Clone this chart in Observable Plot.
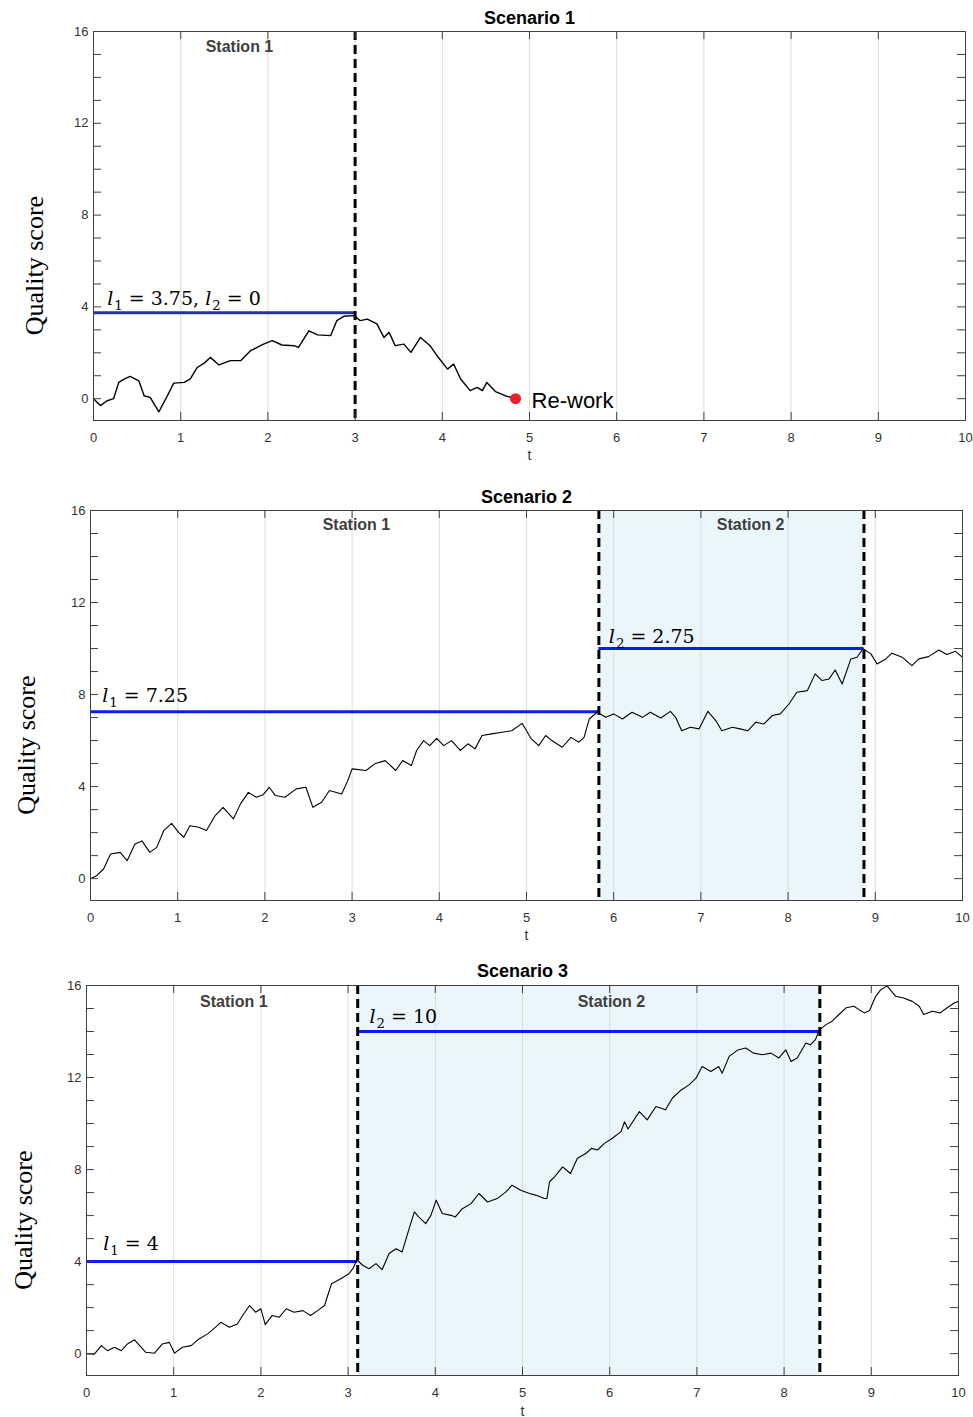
<!DOCTYPE html>
<html>
<head>
<meta charset="utf-8">
<script src="https://cdn.jsdelivr.net/npm/d3@7"></script>
<script src="https://cdn.jsdelivr.net/npm/@observablehq/plot@0.6"></script>
<style>
  body { margin: 0; background: #fff; }
  #chart svg { display: block; }
</style>
</head>
<body>
<div id="chart"></div>
<script>
// ---------- shared axis values ----------
const xTicks = [0, 1, 2, 3, 4, 5, 6, 7, 8, 9, 10];
const yLabelTicks = [0, 4, 8, 12, 16];
const yMinorTicks = [0, 1, 2, 3, 4, 5, 6, 7, 8, 9, 10, 11, 12, 13, 14, 15, 16];
const yDomain = [-0.95, 16];

// ---------- Scenario 1 ----------
const s1T = [0,0.04,0.08,0.15,0.23,0.29,0.35,0.42,0.52,0.58,0.65,0.75,0.83,0.92,1.04,1.11,1.19,1.27,1.34,1.44,1.57,1.69,1.8,1.95,2.05,2.16,2.3,2.35,2.47,2.57,2.72,2.79,2.87,2.99,3.06,3.14,3.25,3.33,3.39,3.46,3.56,3.64,3.75,3.86,3.94,4.06,4.13,4.21,4.32,4.4,4.46,4.51,4.61,4.72,4.84];
const s1Q = [0,-0.15,-0.3,-0.1,0,0.71,0.85,0.97,0.78,0.13,0.06,-0.57,0,0.68,0.71,0.86,1.36,1.55,1.8,1.47,1.66,1.66,2.09,2.38,2.53,2.34,2.31,2.24,2.96,2.78,2.75,3.4,3.59,3.62,3.4,3.47,3.26,2.67,2.89,2.31,2.38,2.02,2.67,2.31,1.87,1.29,1.51,0.86,0.35,0.49,0.35,0.71,0.31,0.13,0];
const s1Levels = [{x1: 0, x2: 3, y: 3.75}];
const s1Dashes = [3];
const s1Shade = [];
const s1Stations = ["Station 1"];
const s1StationX = [1.674];
const s1Math = ["l1 = 3.75, l2 = 0"];
const s1MathX = [0.157];
const s1MathY = [4.08];
const s1Rework = [{t: 4.84, q: 0, label: "Re-work"}];

// ---------- Scenario 2 ----------
const s2T = [0,0.07,0.15,0.23,0.34,0.42,0.51,0.59,0.68,0.76,
  0.84,0.93,1.01,1.07,1.14,1.24,1.33,1.43,1.52,1.64,
  1.72,1.81,1.9,1.98,2.05,2.12,2.23,2.36,2.47,2.55,
  2.65,2.74,2.88,2.95,3.0,3.16,3.26,3.38,3.5,3.58,
  3.68,3.74,3.82,3.89,3.97,4.05,4.14,4.24,4.33,4.41,
  4.49,4.6,4.72,4.83,4.95,5.05,5.14,5.22,5.29,5.41,
  5.51,5.6,5.66,5.72,5.81,5.91,6.0,6.1,6.21,6.33,
  6.42,6.54,6.65,6.71,6.78,6.88,6.98,7.08,7.17,7.24,
  7.36,7.45,7.54,7.63,7.72,7.82,7.91,8.01,8.1,8.22,
  8.31,8.39,8.47,8.54,8.62,8.72,8.79,8.86,8.95,9.02,
  9.12,9.19,9.31,9.42,9.5,9.61,9.73,9.82,9.92,10.0];
const s2Q = [0,0.13,0.42,1.07,1.14,0.78,1.51,1.64,1.14,1.36,
  2.09,2.4,2.01,1.8,2.3,2.23,2.09,2.74,3.1,2.6,
  3.25,3.75,3.54,3.65,3.97,3.61,3.54,3.9,3.97,3.1,
  3.32,3.83,3.68,4.26,4.77,4.7,4.99,5.13,4.7,5.13,
  4.92,5.57,6.0,5.78,6.1,5.78,6.0,5.57,5.86,5.64,
  6.22,6.29,6.36,6.43,6.75,6.1,5.78,6.22,6.0,5.71,
  6.14,5.93,6.14,6.94,7.23,7.01,7.16,6.94,7.23,7.01,
  7.23,6.98,7.27,7.01,6.43,6.58,6.51,7.27,6.87,6.43,
  6.58,6.51,6.43,6.8,6.72,7.09,7.16,7.59,8.1,8.17,
  8.9,8.61,8.68,9.07,8.46,9.55,9.62,9.99,9.77,9.33,
  9.55,9.8,9.62,9.26,9.55,9.65,9.94,9.74,9.88,9.62];
const s2Levels = [{x1: 0, x2: 5.83, y: 7.25}, {x1: 5.83, x2: 8.87, y: 10}];
const s2Dashes = [5.83, 8.87];
const s2Shade = [{x1: 5.83, x2: 8.87}];
const s2Stations = ["Station 1", "Station 2"];
const s2StationX = [3.05, 7.57];
const s2Math = ["l1 = 7.25", "l2 = 2.75"];
const s2MathX = [0.134, 5.944];
const s2MathY = [7.67, 10.25];

// ---------- Scenario 3 ----------
const s3T = [0,0.09,0.17,0.24,0.32,0.4,0.47,0.55,0.61,0.68,
  0.78,0.87,0.95,1.01,1.1,1.2,1.29,1.39,1.48,1.54,
  1.64,1.73,1.79,1.87,1.94,2.0,2.05,2.13,2.21,2.29,
  2.38,2.48,2.57,2.65,2.73,2.76,2.81,2.88,2.95,3.01,
  3.06,3.1,3.17,3.24,3.32,3.39,3.47,3.55,3.62,3.7,
  3.76,3.81,3.89,3.95,4.01,4.08,4.18,4.23,4.31,4.41,
  4.5,4.6,4.71,4.81,4.88,4.98,5.08,5.15,5.25,5.28,
  5.31,5.37,5.46,5.55,5.63,5.73,5.79,5.86,5.94,6.03,
  6.13,6.17,6.21,6.34,6.43,6.53,6.64,6.72,6.82,6.91,
  6.99,7.06,7.16,7.25,7.29,7.37,7.47,7.56,7.65,7.75,
  7.85,7.94,8.02,8.08,8.15,8.25,8.3,8.36,8.4,8.48,
  8.55,8.63,8.71,8.8,8.86,8.92,8.98,9.05,9.11,9.18,
  9.28,9.37,9.47,9.55,9.6,9.7,9.79,9.87,9.95,10.0];
const s3Q = [0,-0.02,0.35,0.13,0.28,0.13,0.42,0.6,0.35,0.06,
  0.02,0.42,0.49,0.02,0.28,0.35,0.64,0.86,1.15,1.36,
  1.15,1.29,1.66,2.09,1.8,1.95,1.26,1.66,1.58,1.95,
  1.8,1.87,1.66,1.87,2.09,2.45,3.04,3.18,3.33,3.47,
  3.73,4.08,3.83,3.69,3.91,3.65,4.35,4.56,4.42,5.43,
  6.16,5.94,5.65,6.01,6.67,6.09,6.01,5.94,6.3,6.52,
  6.96,6.59,6.74,7.03,7.32,7.1,6.96,6.89,6.74,6.74,
  7.47,7.69,8.12,7.83,8.49,8.71,8.92,8.85,9.14,9.36,
  9.65,10.08,9.76,10.52,10.16,10.74,10.6,11.11,11.46,11.68,
  11.97,12.48,12.26,12.48,12.19,12.92,13.2,13.28,13.06,12.99,
  13.06,12.85,13.2,12.7,12.85,13.5,13.42,13.65,14.05,14.3,
  14.45,14.74,15.03,15.1,14.95,14.81,14.91,15.53,15.82,15.98,
  15.53,15.46,15.31,15.1,14.74,14.88,14.81,15.03,15.24,15.31];
const s3Levels = [{x1: 0, x2: 3.11, y: 4}, {x1: 3.11, x2: 8.41, y: 14}];
const s3Dashes = [3.11, 8.41];
const s3Shade = [{x1: 3.11, x2: 8.41}];
const s3Stations = ["Station 1", "Station 2"];
const s3StationX = [1.69, 6.02];
const s3Math = ["l1 = 4", "l2 = 10"];
const s3MathX = [0.191, 3.245];
const s3MathY = [4.49, 14.37];

const titles = ["Scenario 1", "Scenario 2", "Scenario 3"];
const yTitle = "Quality score";
const xTitle = "t";

// ---------- panel builder ----------
const W = 973;
const frameColor = "#404040";
const sans = "'Liberation Sans', Arial, Helvetica, sans-serif";

function panel(p) {
  const plotW = W - p.ml - p.mr;
  const plotH = p.height - p.mt - p.mb;
  const path = p.t.map((t, i) => ({t, q: p.q[i]}));
  const stations = p.stations.map((s, i) => ({x: p.stationX[i], text: s}));
  const math = p.math.map((s, i) => ({x: p.mathX[i], y: p.mathY[i], text: s}));
  const marks = [
    Plot.rect(p.shade, {x1: "x1", x2: "x2", fill: "#eaf6fc"}),
    Plot.ruleX(xTicks.slice(1, -1), {stroke: "#d9d9d9", strokeOpacity: 0.9, strokeWidth: 1}),
    Plot.ruleY(p.levels, {y: "y", x1: "x1", x2: "x2", stroke: p.blue, strokeWidth: 3}),
    Plot.line(path, {x: "t", y: "q", stroke: "#000", strokeWidth: p.lw}),
    Plot.ruleX(p.dashes, {stroke: "#000", strokeWidth: 3, strokeDasharray: "9,5"}),
    Plot.frame({stroke: frameColor, strokeWidth: 1}),
    Plot.tickX(xTicks, {x: d => d, insetTop: plotH - 8, stroke: frameColor}),
    Plot.tickX(xTicks, {x: d => d, insetBottom: plotH - 8, stroke: frameColor}),
    Plot.tickY(yMinorTicks, {y: d => d, insetRight: plotW - 8, stroke: frameColor}),
    Plot.tickY(yMinorTicks, {y: d => d, insetLeft: plotW - 8, stroke: frameColor}),
    Plot.axisX(xTicks, {tickSize: 0, tickPadding: 12, fontSize: 13, label: null}),
    Plot.axisY(yLabelTicks, {tickSize: 0, tickPadding: 5, fontSize: 13, label: null}),
    Plot.text([{x: 5, text: p.title}], {x: "x", text: "text", frameAnchor: "top", lineAnchor: "middle", dy: p.titleDy, fontSize: 18, fontWeight: "bold", fill: "#000"}),
    Plot.text([{x: 5, text: xTitle}], {x: "x", text: "text", frameAnchor: "bottom", lineAnchor: "middle", dy: p.tDy, fontSize: 14, fill: "#333"}),
    Plot.text([{y: 5.8, text: yTitle}], {y: "y", text: "text", frameAnchor: "left", textAnchor: "middle", lineAnchor: "middle", dx: p.yLabDx, rotate: -90, fontSize: 26, fontFamily: "'Liberation Serif', 'Times New Roman', serif", fill: "#000"}),
    Plot.text(stations, {x: "x", text: "text", frameAnchor: "top", lineAnchor: "middle", dy: p.stationDy, fontSize: 16, fontWeight: "bold", fill: "#404040"}),
    Plot.text(math, {x: "x", y: "y", text: "text", textAnchor: "start", lineAnchor: "bottom", fontSize: 19, fontFamily: "'DejaVu Serif', serif", fill: "#000"})
  ];
  if (p.rework) {
    marks.push(Plot.dot(p.rework, {x: "t", y: "q", r: 5.5, fill: "#ee1f26", stroke: null}));
    marks.push(Plot.text(p.rework, {x: "t", y: "q", text: "label", textAnchor: "start", dx: 16, dy: 2, fontSize: 22, fontFamily: sans, fill: "#000"}));
  }
  const svg = Plot.plot({
    width: W,
    height: p.height,
    marginTop: p.mt,
    marginBottom: p.mb,
    marginLeft: p.ml,
    marginRight: p.mr,
    x: {domain: [0, 10], label: null},
    y: {domain: yDomain, label: null},
    style: {fontFamily: sans, color: "#333", background: "#fff", overflow: "visible"},
    marks
  });
  // typeset the "l1 = ..." labels with italic l and subscript digit
  d3.select(svg).selectAll("text").each(function () {
    const s = this.textContent;
    if (!/^l\d = /.test(s)) return;
    const el = d3.select(this);
    el.text(null);
    const parts = s.split(/(l\d)/).filter(x => x.length);
    let shifted = false;
    for (const part of parts) {
      if (/^l\d$/.test(part)) {
        const a = el.append("tspan").attr("font-style", "italic").text("l");
        if (shifted) { a.attr("dy", -5); shifted = false; }
        el.append("tspan").attr("font-size", "0.7em").attr("dy", 5).attr("dx", 1).text(part[1]);
        shifted = true;
      } else {
        const b = el.append("tspan").text(part);
        if (shifted) { b.attr("dy", -5); shifted = false; }
      }
    }
  });
  return svg;
}

const chart = document.getElementById("chart");
chart.appendChild(panel({
  t: s1T, q: s1Q, levels: s1Levels, dashes: s1Dashes, shade: s1Shade,
  stations: s1Stations, stationX: s1StationX, math: s1Math, mathX: s1MathX, mathY: s1MathY,
  rework: s1Rework, title: titles[0], blue: "#283099", lw: 1.4,
  height: 470, mt: 31, mb: 50, ml: 93, mr: 8,
  titleDy: -13.5, tDy: 35, yLabDx: -59, stationDy: 15
}));
chart.appendChild(panel({
  t: s2T, q: s2Q, levels: s2Levels, dashes: s2Dashes, shade: s2Shade,
  stations: s2Stations, stationX: s2StationX, math: s2Math, mathX: s2MathX, mathY: s2MathY,
  rework: null, title: titles[1], blue: "#0a1cf0", lw: 1.1,
  height: 480, mt: 40, mb: 50, ml: 90, mr: 11,
  titleDy: -13.5, tDy: 35, yLabDx: -64, stationDy: 14
}));
chart.appendChild(panel({
  t: s3T, q: s3Q, levels: s3Levels, dashes: s3Dashes, shade: s3Shade,
  stations: s3Stations, stationX: s3StationX, math: s3Math, mathX: s3MathX, mathY: s3MathY,
  rework: null, title: titles[2], blue: "#0a1cf0", lw: 1.1,
  height: 467, mt: 35, mb: 42, ml: 86, mr: 15,
  titleDy: -14, tDy: 36, yLabDx: -63, stationDy: 16.5
}));
</script>
</body>
</html>
